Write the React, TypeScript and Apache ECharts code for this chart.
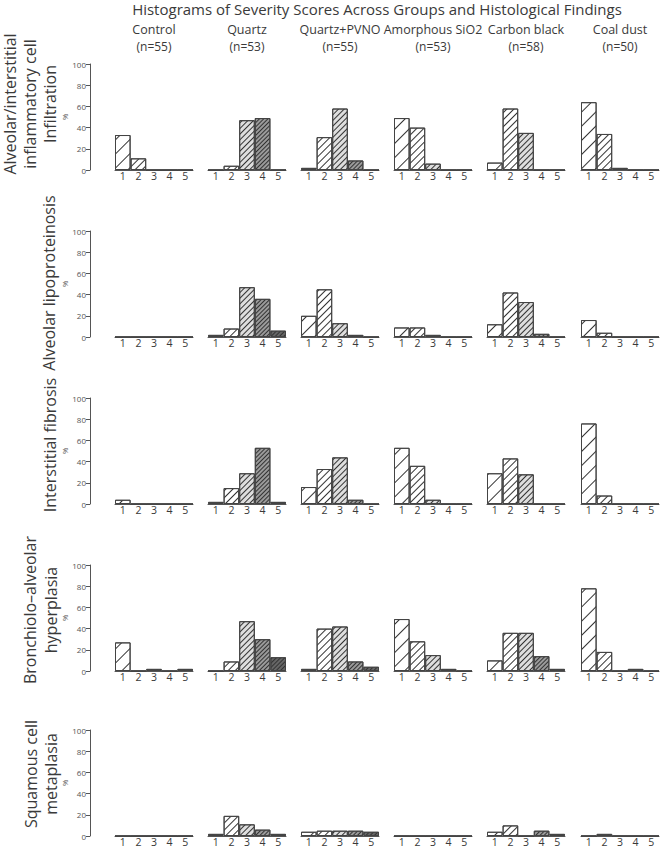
import React, { useEffect, useRef } from 'react';
import * as echarts from 'echarts';

const title = 'Histograms of Severity Scores Across Groups and Histological Findings';
const groups = ['Control', 'Quartz', 'Quartz+PVNO', 'Amorphous SiO2', 'Carbon black', 'Coal dust'];
const groupN = ['(n=55)', '(n=53)', '(n=55)', '(n=53)', '(n=58)', '(n=50)'];
const scores = ['1', '2', '3', '4', '5'];
const findingLabels = [
  ['Alveolar/interstitial', 'inflammatory cell', 'Infiltration'],
  ['Alveolar lipoproteinosis'],
  ['Interstitial fibrosis'],
  ['Bronchiolo\u2013alveolar', 'hyperplasia'],
  ['Squamous cell', 'metaplasia'],
];

// percentages per group (Control, Quartz, Quartz+PVNO, Amorphous SiO2, Carbon black, Coal dust), scores 1..5
const infiltration = [
  [33, 11, 0, 0, 0],
  [0, 4, 47, 49, 0],
  [2, 31, 58, 9, 0],
  [49, 40, 6, 0, 0],
  [7, 58, 35, 0, 0],
  [64, 34, 2, 0, 0],
];
const lipoproteinosis = [
  [0, 0, 0, 0, 0],
  [2, 8, 47, 36, 6],
  [20, 45, 13, 2, 0],
  [9, 9, 2, 0, 0],
  [12, 42, 33, 3, 0],
  [16, 4, 0, 0, 0],
];
const fibrosis = [
  [4, 0, 0, 0, 0],
  [2, 15, 29, 53, 2],
  [16, 33, 44, 4, 0],
  [53, 36, 4, 0, 0],
  [29, 43, 28, 0, 0],
  [76, 8, 0, 0, 0],
];
const hyperplasia = [
  [27, 0, 2, 0, 2],
  [0, 9, 47, 30, 13],
  [2, 40, 42, 9, 4],
  [49, 28, 15, 2, 0],
  [10, 36, 36, 14, 2],
  [78, 18, 0, 2, 0],
];
const metaplasia = [
  [0, 0, 0, 0, 0],
  [2, 19, 11, 6, 2],
  [4, 5, 5, 5, 4],
  [0, 0, 0, 0, 0],
  [4, 10, 0, 5, 2],
  [0, 2, 0, 0, 0],
];
const findings = [infiltration, lipoproteinosis, fibrosis, hyperplasia, metaplasia];

const FONT = '"Open Sans", "Noto Sans", sans-serif';
const TXT = '#3a3a3a';
const AX = '#555';

const colLeft = [115, 208, 301, 394, 487, 581];
const rowTop = [64, 231, 398, 565, 730];
const PW = 78;
const PH = 106;

const hatch = [
  { bg: '#ffffff', line: '#333333', gap: 9 },
  { bg: '#ffffff', line: '#333333', gap: 4 },
  { bg: '#dedede', line: '#333333', gap: 2.5 },
  { bg: '#9a9a9a', line: '#333333', gap: 2 },
  { bg: '#666666', line: '#333333', gap: 1.6 },
];

export default function App() {
  const ref = useRef<HTMLDivElement>(null);
  useEffect(() => {
    if (!ref.current) return;
    const chart = echarts.init(ref.current, undefined, { renderer: 'svg' });
    const grid: any[] = [];
    const xAxis: any[] = [];
    const yAxis: any[] = [];
    const series: any[] = [];
    findings.forEach((rows, r) => {
      rows.forEach((vals, c) => {
        const idx = r * 6 + c;
        grid.push({ left: colLeft[c], top: rowTop[r], width: PW, height: PH });
        xAxis.push({
          type: 'category',
          gridIndex: idx,
          data: scores,
          boundaryGap: true,
          axisLine: { show: true, lineStyle: { color: AX, width: 1 } },
          axisTick: { show: false },
          axisLabel: { color: TXT, fontSize: 10.5, margin: 1, lineHeight: 10, fontFamily: FONT },
        });
        yAxis.push({
          type: 'value',
          gridIndex: idx,
          min: 0,
          max: 100,
          interval: 20,
          show: c === 0,
          offset: 25,
          splitLine: { show: false },
          axisLine: { show: true, lineStyle: { color: AX } },
          axisTick: { show: true, length: 4, lineStyle: { color: AX } },
          axisLabel: { fontSize: 8, color: AX, margin: 4, fontFamily: FONT },
          name: '%',
          nameLocation: 'middle',
          nameGap: 16,
          nameTextStyle: { fontSize: 8, color: AX, fontFamily: FONT },
        });
        series.push({
          type: 'bar',
          xAxisIndex: idx,
          yAxisIndex: idx,
          barWidth: '100%',
          barCategoryGap: '0%',
          data: vals.map((v, i) => ({
            value: v,
            itemStyle: {
              color: hatch[i].bg,
              borderColor: '#444',
              borderWidth: 1,
              decal: {
                symbol: 'rect',
                symbolSize: 1,
                dashArrayX: [1, 0],
                dashArrayY: [1, hatch[i].gap],
                rotation: -Math.PI / 4,
                color: hatch[i].line,
                backgroundColor: hatch[i].bg,
              },
            },
          })),
        });
      });
    });

    const graphic: any[] = [];
    graphic.push({
      type: 'text', x: 377, y: 9,
      style: { text: title, align: 'center', verticalAlign: 'middle', font: `15px ${FONT}`, fill: TXT },
    });
    groups.forEach((g, c) => {
      const cx = colLeft[c] + PW / 2;
      graphic.push({ type: 'text', x: cx, y: 29, style: { text: g, align: 'center', verticalAlign: 'middle', font: `12.5px ${FONT}`, fill: TXT } });
      graphic.push({ type: 'text', x: cx, y: 46, style: { text: groupN[c], align: 'center', verticalAlign: 'middle', font: `12px ${FONT}`, fill: TXT } });
    });
    const labelCenters = [104, 283, 445, 610, 774];
    const lineXs: number[][] = [[10, 30, 50], [49], [50], [30, 51], [31, 51]];
    findingLabels.forEach((lines, r) => {
      lines.forEach((ln, k) => {
        graphic.push({
          type: 'text', x: lineXs[r][k], y: labelCenters[r], rotation: Math.PI / 2,
          style: { text: ln, align: 'center', verticalAlign: 'middle', font: `16px ${FONT}`, fill: TXT },
        });
      });
    });

    chart.setOption({
      animation: false,
      backgroundColor: '#ffffff',
      grid, xAxis, yAxis, series, graphic,
    });
    return () => chart.dispose();
  }, []);
  return <div ref={ref} style={{ position: 'absolute', left: 0, top: 0, width: 661, height: 849 }} />;
}
